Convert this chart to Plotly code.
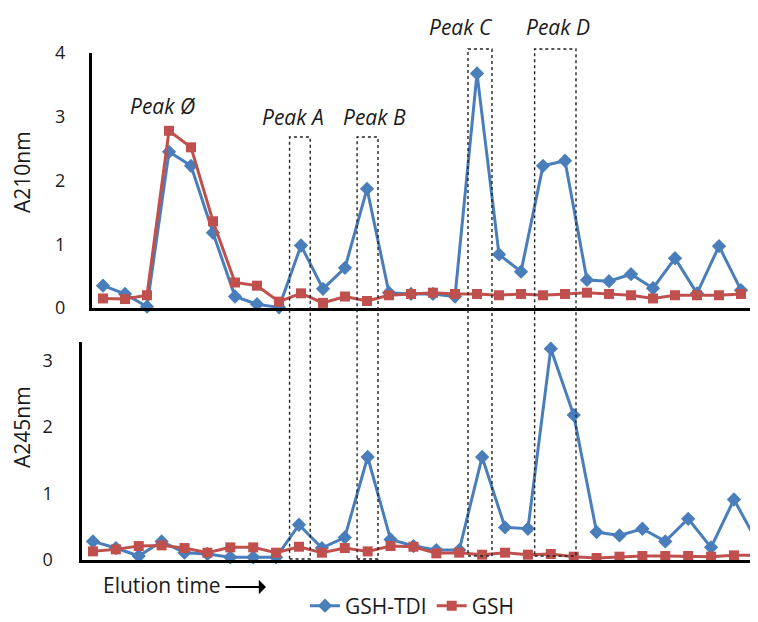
import plotly.graph_objects as go

fractions = list(range(30))

gsh_tdi_210 = [0.35, 0.22, 0.02, 2.45, 2.23, 1.18, 0.18, 0.06, 0.01, 0.98,
               0.30, 0.63, 1.87, 0.24, 0.22, 0.22, 0.18, 3.68, 0.84, 0.57,
               2.23, 2.31, 0.44, 0.42, 0.53, 0.31, 0.78, 0.23, 0.97, 0.28]
gsh_210 = [0.15, 0.14, 0.20, 2.78, 2.52, 1.36, 0.40, 0.35, 0.10, 0.23,
           0.08, 0.18, 0.11, 0.20, 0.22, 0.24, 0.22, 0.22, 0.20, 0.22,
           0.20, 0.22, 0.24, 0.22, 0.20, 0.15, 0.20, 0.20, 0.20, 0.22]
gsh_tdi_245 = [0.28, 0.18, 0.06, 0.28, 0.11, 0.09, 0.04, 0.04, 0.04, 0.53,
               0.18, 0.34, 1.55, 0.31, 0.21, 0.15, 0.15, 1.55, 0.49, 0.47,
               3.18, 2.18, 0.42, 0.37, 0.47, 0.28, 0.62, 0.19, 0.91, 0.28]
gsh_245 = [0.13, 0.16, 0.21, 0.22, 0.18, 0.11, 0.19, 0.19, 0.11, 0.20,
           0.11, 0.18, 0.13, 0.21, 0.20, 0.10, 0.11, 0.08, 0.11, 0.08,
           0.09, 0.05, 0.03, 0.05, 0.06, 0.06, 0.06, 0.05, 0.07, 0.07]

series_names = ["GSH-TDI", "GSH"]
top_ticks = [0, 1, 2, 3, 4]
bottom_ticks = [0, 1, 2, 3]

peak_labels = ["Peak Ø", "Peak A", "Peak B", "Peak C", "Peak D"]
peak_box_x = [(8.48, 9.42), (11.55, 12.5), (16.59, 17.68), (19.62, 21.5)]

BLUE = "#4A7EBB"
RED = "#C0504D"
FONT = "Open Sans"
TXT = "#1a1a1a"
OFF = 8                      # default page body margin
W, H = 758 - OFF, 622 - OFF  # figure size in the page


def px_x(p):
    return (p - OFF) / W


def px_y(p):
    return 1 - (p - OFF) / H


fig = go.Figure()

for y, name, color, sym, size, axis, show in [
    (gsh_tdi_210, series_names[0], BLUE, "diamond", 11, "1", True),
    (gsh_210, series_names[1], RED, "square", 10, "1", True),
    (gsh_tdi_245, series_names[0], BLUE, "diamond", 11, "2", False),
    (gsh_245, series_names[1], RED, "square", 10, "2", False),
]:
    fig.add_trace(go.Scatter(
        x=fractions, y=y, name=name, mode="lines+markers",
        line=dict(color=color, width=3),
        marker=dict(symbol=sym, size=size, color=color),
        xaxis="x" if axis == "1" else "x2",
        yaxis="y" if axis == "1" else "y2",
        showlegend=show, cliponaxis=False,
    ))

axis_common = dict(showgrid=False, zeroline=False, showline=True,
                   linecolor="black", linewidth=3, ticks="",
                   tickfont=dict(size=18, family=FONT, color=TXT))

fig.update_layout(
    width=W, height=H,
    margin=dict(l=0, r=0, t=0, b=0, pad=0, autoexpand=False),
    paper_bgcolor="white", plot_bgcolor="white",
    font=dict(family=FONT, size=19, color=TXT),
    xaxis=dict(domain=[px_x(92), px_x(752)], range=[-0.5, 29.5],
               showticklabels=False, anchor="y", **axis_common),
    yaxis=dict(domain=[px_y(308), px_y(53)], range=[0, 4],
               tickvals=top_ticks, ticklabelstandoff=20,
               anchor="x", **axis_common),
    xaxis2=dict(domain=[px_x(81.5), 1.0], range=[-0.5, 29.05],
                showticklabels=False, anchor="y2", **axis_common),
    yaxis2=dict(domain=[px_y(560), px_y(342)], range=[0, 3.28],
                tickvals=bottom_ticks, ticklabelstandoff=22,
                anchor="x2", **axis_common),
    legend=dict(orientation="h", x=px_x(305), y=px_y(606),
                xanchor="left", yanchor="middle",
                font=dict(size=21, family=FONT, color=TXT),
                bgcolor="rgba(0,0,0,0)"),
    showlegend=True,
)

# dashed peak boxes spanning both panels
box_tops = [137, 137, 49, 49]
box_bottoms = [559, 559, 556, 556]
for (x0, x1), top, bot in zip(peak_box_x, box_tops, box_bottoms):
    fig.add_shape(type="rect", xref="x", yref="paper",
                  x0=x0, x1=x1, y0=px_y(bot), y1=px_y(top),
                  line=dict(color="#222", width=1.4, dash="dot"),
                  layer="above")

annos = []
label_pos = [(163, 106), (293, 117), (374, 117), (461, 27), (558, 27)]
for text, (x, y) in zip(peak_labels, label_pos):
    annos.append(dict(text=f"<i>{text}</i>", x=px_x(x), y=px_y(y),
                      xref="paper", yref="paper", showarrow=False,
                      xanchor="center", yanchor="middle",
                      font=dict(size=21, family=FONT, color=TXT)))
annos.append(dict(text="A210nm", x=px_x(22), y=px_y(172), xref="paper",
                  yref="paper", showarrow=False, textangle=-90,
                  xanchor="center", yanchor="middle",
                  font=dict(size=21, family=FONT, color=TXT)))
annos.append(dict(text="A245nm", x=px_x(22), y=px_y(427), xref="paper",
                  yref="paper", showarrow=False, textangle=-90,
                  xanchor="center", yanchor="middle",
                  font=dict(size=21, family=FONT, color=TXT)))
annos.append(dict(text="Elution time", x=px_x(101), y=px_y(585),
                  xref="paper", yref="paper", xanchor="left",
                  yanchor="middle", showarrow=False,
                  font=dict(size=21, family=FONT, color=TXT)))
annos.append(dict(text="", x=px_x(266), y=px_y(587), xref="paper",
                  yref="paper", ax=-42, ay=0, showarrow=True,
                  arrowhead=1, arrowsize=1.2, arrowwidth=2,
                  arrowcolor="black"))
fig.update_layout(annotations=annos)

fig.write_html("out.html")
